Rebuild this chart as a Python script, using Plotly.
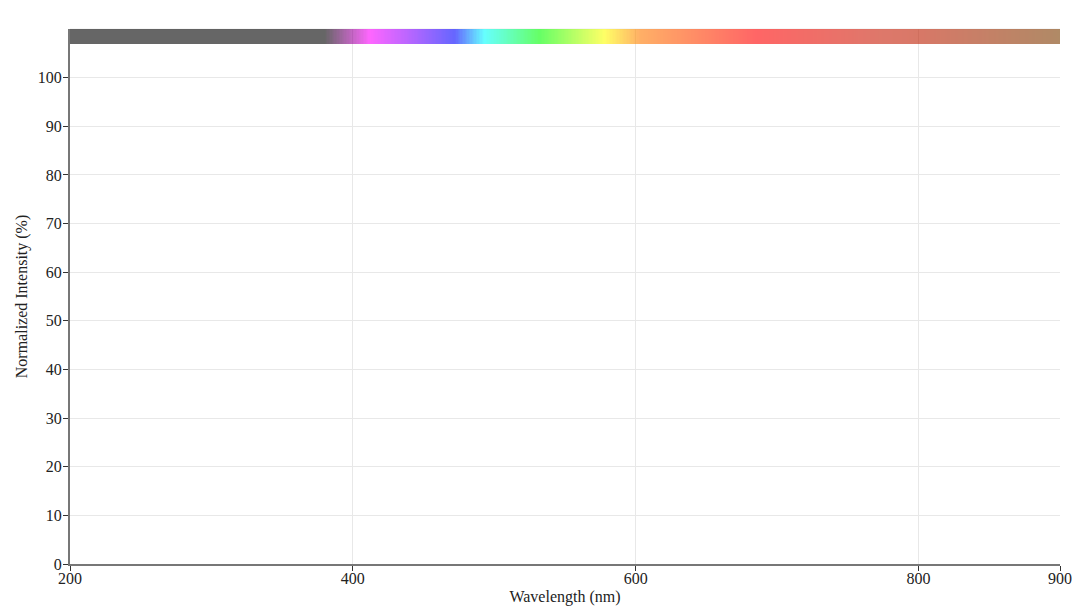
import numpy as np
import plotly.graph_objects as go

# spectrum colour stops (wavelength nm, colour)
stop_nm = [200, 380, 412, 472, 493, 532, 578, 603, 685, 773, 800, 900]
stop_colors = ["#000000", "#000000", "#ff00ff", "#0000ff", "#00ffff", "#00ff00",
               "#ffff00", "#ff7b00", "#ff0000", "#c81e08", "#be1e03", "#7b3c00"]
band_low, band_high = 107, 110
x_ticks = [200, 400, 600, 800, 900]
y_ticks = [0, 10, 20, 30, 40, 50, 60, 70, 80, 90, 100]

edges = np.arange(200, 901, 1)
centers = (edges[:-1] + edges[1:]) / 2.0
lo, hi = stop_nm[0], stop_nm[-1]
colorscale = [[(n - lo) / (hi - lo), c] for n, c in zip(stop_nm, stop_colors)]

fig = go.Figure()
fig.add_trace(go.Heatmap(
    x=edges, y=[band_low, band_high], z=[centers.tolist()],
    colorscale=colorscale, zmin=lo, zmax=hi, showscale=False,
    opacity=0.6, hoverinfo="skip",
))

font_family = "Liberation Serif, Times New Roman, serif"
fig.update_layout(
    width=1072, height=598,
    margin=dict(l=62, r=20, t=21, b=42, autoexpand=False),
    plot_bgcolor="white", paper_bgcolor="white",
    font=dict(family=font_family, size=16, color="#222"),
    showlegend=False,
)
fig.update_xaxes(
    range=[200, 900], tickvals=x_ticks, ticktext=[str(v) for v in x_ticks],
    showgrid=True, gridcolor="#e8e8e8", gridwidth=1,
    showline=True, linecolor="#777", linewidth=2,
    ticks="outside", ticklen=5, tickcolor="#333", tickwidth=1,
    ticklabelstandoff=-6,
    title=dict(text="Wavelength (nm)", standoff=17, font=dict(size=16)),
    zeroline=False, mirror=False, automargin=False,
)
fig.update_yaxes(
    range=[0, 110], tickvals=y_ticks, ticktext=[str(v) for v in y_ticks],
    showgrid=True, gridcolor="#e8e8e8", gridwidth=1,
    showline=True, linecolor="#777", linewidth=2,
    ticks="outside", ticklen=5, tickcolor="#333", tickwidth=1,
    ticklabelstandoff=-2,
    title=dict(text="Normalized Intensity (%)", standoff=6, font=dict(size=16)),
    zeroline=False, automargin=False,
)
fig.add_shape(type="line", xref="paper", yref="paper", x0=0, x1=1, y0=1, y1=1,
              line=dict(color="#ececec", width=1), layer="below")

fig.write_html("out.html")
